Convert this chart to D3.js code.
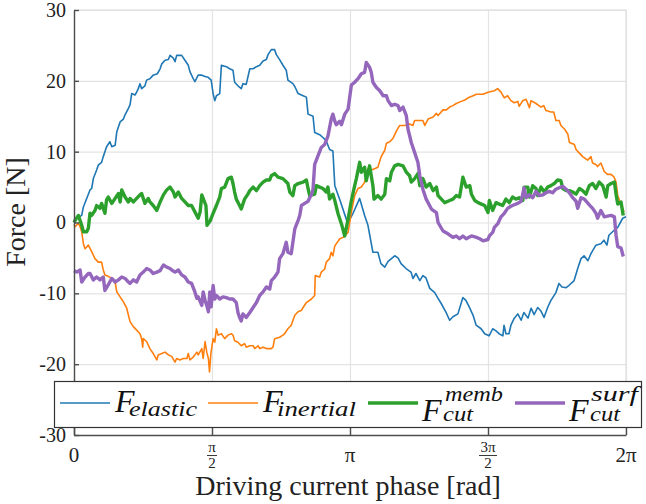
<!DOCTYPE html>
<html>
<head>
<meta charset="utf-8">
<script src="https://cdn.jsdelivr.net/npm/d3@7"></script>
<style>
  body { margin: 0; background: #fff; }
  .grid line { stroke: #e3e3e3; stroke-width: 1.2; }
  .grid path { display: none; }
  .axis path, .axis line { stroke: #4d4d4d; stroke-width: 1.4; }
  .series { fill: none; stroke-linejoin: round; }
</style>
</head>
<body>
<div id="chart"></div>
<script>
// phase in multiples of pi, force in N
const elastic = [[0,0],[0.010,0.6],[0.028,1.0],[0.034,2.2],[0.046,3.4],[0.058,4.6],[0.064,4.8],[0.070,6.2],[0.082,7.4],[0.088,8.1],[0.100,8.5],[0.106,9.3],[0.112,10.0],[0.118,10.7],[0.130,11.4],[0.137,10.7],[0.149,10.9],[0.155,12.8],[0.167,14.2],[0.179,14.6],[0.185,15.2],[0.197,16.1],[0.203,16.6],[0.209,18.2],[0.221,18.0],[0.227,18.4],[0.233,18.9],[0.239,19.6],[0.245,18.9],[0.257,19.3],[0.263,20.1],[0.275,20.3],[0.287,20.8],[0.302,21.0],[0.312,21.7],[0.318,22.4],[0.330,22.9],[0.342,23.0],[0.348,23.6],[0.360,23.2],[0.366,22.7],[0.372,23.6],[0.390,23.6],[0.402,22.9],[0.414,22.2],[0.420,21.3],[0.432,20.3],[0.438,19.9],[0.450,20.8],[0.463,20.8],[0.475,20.6],[0.486,20.5],[0.497,20.1],[0.504,18.2],[0.510,17.2],[0.516,17.9],[0.528,18.2],[0.534,22.2],[0.552,22.0],[0.564,21.7],[0.576,21.5],[0.582,19.8],[0.594,19.3],[0.606,18.9],[0.612,19.6],[0.624,19.5],[0.637,21.7],[0.649,21.7],[0.661,22.0],[0.673,22.2],[0.685,22.8],[0.697,23.0],[0.703,23.7],[0.715,24.4],[0.727,24.4],[0.733,23.7],[0.745,23.0],[0.757,22.2],[0.769,21.5],[0.775,20.1],[0.793,19.6],[0.800,19.2],[0.812,18.2],[0.830,17.9],[0.842,17.7],[0.848,15.3],[0.866,15.0],[0.872,12.7],[0.890,12.4],[0.902,12.0],[0.914,11.5],[0.926,10.3],[0.938,10.1],[0.945,5.2],[0.964,3.1],[0.988,0.3],[0.993,0.0],[1.011,1.3],[1.035,3.4],[1.053,1.0],[1.065,-0.4],[1.083,-4.2],[1.101,-4.2],[1.112,-5.8],[1.126,-6.3],[1.138,-5.5],[1.162,-4.7],[1.174,-5.0],[1.185,-5.8],[1.203,-6.5],[1.221,-7.0],[1.228,-7.9],[1.239,-7.2],[1.253,-8.2],[1.264,-7.5],[1.275,-7.8],[1.289,-9.3],[1.307,-9.9],[1.319,-10.7],[1.330,-11.4],[1.348,-12.7],[1.361,-13.8],[1.373,-13.3],[1.391,-12.9],[1.409,-10.6],[1.420,-11.0],[1.434,-12.1],[1.446,-13.1],[1.457,-14.5],[1.475,-15.0],[1.488,-15.7],[1.504,-16.0],[1.517,-15.0],[1.529,-15.3],[1.540,-15.7],[1.554,-16.0],[1.558,-14.5],[1.565,-15.7],[1.576,-15.7],[1.583,-14.5],[1.594,-13.6],[1.608,-12.9],[1.620,-13.8],[1.630,-12.7],[1.645,-13.5],[1.656,-12.1],[1.667,-13.0],[1.680,-12.0],[1.692,-12.5],[1.703,-13.4],[1.716,-12.0],[1.728,-11.0],[1.746,-9.9],[1.757,-8.6],[1.768,-9.1],[1.783,-9.2],[1.793,-8.9],[1.812,-8.2],[1.825,-6.5],[1.837,-5.1],[1.848,-4.7],[1.862,-5.4],[1.873,-4.4],[1.891,-3.2],[1.909,-3.0],[1.920,-2.5],[1.931,-3.2],[1.938,-1.8],[1.957,-1.1],[1.970,-0.7],[1.988,0.6],[2.0,0.8]];

const inertial = [[0,-0.3],[0.004,-0.6],[0.016,-0.1],[0.022,-0.6],[0.028,-1.3],[0.034,-3.0],[0.040,-3.7],[0.052,-3.2],[0.064,-4.1],[0.076,-5.1],[0.088,-5.6],[0.100,-5.6],[0.106,-6.7],[0.112,-7.4],[0.124,-7.6],[0.137,-7.9],[0.149,-8.4],[0.155,-9.8],[0.167,-10.5],[0.179,-11.2],[0.191,-12.1],[0.203,-14.0],[0.215,-14.7],[0.227,-15.2],[0.239,-15.7],[0.245,-16.4],[0.249,-17.6],[0.251,-16.4],[0.263,-16.8],[0.275,-17.8],[0.287,-18.5],[0.300,-19.4],[0.305,-18.7],[0.318,-18.5],[0.330,-18.3],[0.342,-18.7],[0.354,-18.9],[0.366,-19.7],[0.372,-19.2],[0.384,-19.4],[0.396,-19.2],[0.409,-19.2],[0.414,-18.5],[0.420,-19.4],[0.432,-19.0],[0.445,-18.3],[0.450,-18.7],[0.463,-17.8],[0.468,-19.2],[0.475,-16.8],[0.481,-18.3],[0.487,-19.2],[0.491,-21.1],[0.496,-18.5],[0.504,-16.4],[0.510,-16.9],[0.516,-15.0],[0.522,-15.9],[0.534,-15.7],[0.546,-16.4],[0.558,-15.9],[0.570,-15.7],[0.576,-15.9],[0.582,-16.7],[0.594,-16.9],[0.606,-17.4],[0.618,-17.1],[0.624,-17.6],[0.637,-17.4],[0.649,-17.4],[0.655,-17.8],[0.667,-17.4],[0.673,-17.8],[0.685,-17.6],[0.697,-17.8],[0.715,-17.8],[0.721,-17.6],[0.727,-16.4],[0.745,-16.2],[0.757,-15.9],[0.763,-15.7],[0.775,-15.0],[0.787,-14.5],[0.800,-13.1],[0.812,-12.6],[0.824,-12.4],[0.830,-12.0],[0.842,-11.3],[0.860,-10.8],[0.872,-10.3],[0.874,-7.5],[0.890,-7.7],[0.896,-7.0],[0.908,-6.6],[0.914,-5.6],[0.926,-5.1],[0.932,-4.2],[0.938,-4.7],[0.945,-3.3],[0.963,-2.3],[0.975,-2.1],[0.993,-1.4],[1.005,1.5],[1.017,3.8],[1.029,4.8],[1.041,5.0],[1.053,5.7],[1.065,7.6],[1.077,7.4],[1.089,7.6],[1.101,7.8],[1.113,9.3],[1.126,10.2],[1.132,11.2],[1.144,11.4],[1.156,11.9],[1.168,12.9],[1.180,13.7],[1.198,13.7],[1.216,13.9],[1.228,13.7],[1.234,14.4],[1.253,14.4],[1.264,14.4],[1.271,13.7],[1.283,14.6],[1.301,14.9],[1.313,15.4],[1.319,15.1],[1.337,15.9],[1.349,15.9],[1.361,16.3],[1.373,16.5],[1.385,16.8],[1.403,17.1],[1.416,17.3],[1.428,17.6],[1.446,17.9],[1.458,18.1],[1.482,18.1],[1.500,18.4],[1.523,18.6],[1.535,18.9],[1.547,18.4],[1.559,17.6],[1.571,17.9],[1.583,17.2],[1.595,16.9],[1.608,17.1],[1.613,16.4],[1.626,17.2],[1.638,17.4],[1.650,16.2],[1.656,17.2],[1.674,16.8],[1.692,16.3],[1.702,16.5],[1.710,15.8],[1.728,15.6],[1.738,15.6],[1.746,14.4],[1.758,14.4],[1.764,13.7],[1.777,13.2],[1.789,12.5],[1.795,11.3],[1.813,11.0],[1.819,10.3],[1.831,9.8],[1.843,9.3],[1.861,8.8],[1.873,9.3],[1.879,8.4],[1.891,8.2],[1.897,7.9],[1.909,8.4],[1.921,7.2],[1.933,6.8],[1.946,6.8],[1.957,6.4],[1.964,5.7],[1.970,3.8],[1.982,2.5],[1.993,1.5]];

const cutMemb = [[0,0],[0.004,0.3],[0.016,1.0],[0.028,-0.4],[0.034,-1.3],[0.046,-1.3],[0.052,-0.8],[0.058,1.3],[0.064,1.0],[0.076,1.7],[0.082,2.4],[0.094,2.0],[0.100,2.7],[0.112,1.3],[0.118,3.2],[0.124,3.6],[0.137,2.7],[0.149,3.4],[0.161,4.1],[0.167,2.9],[0.173,4.6],[0.185,3.6],[0.197,2.9],[0.203,3.4],[0.215,2.9],[0.227,3.4],[0.239,3.9],[0.245,4.1],[0.257,2.7],[0.269,3.4],[0.275,2.9],[0.287,2.4],[0.300,1.7],[0.312,2.9],[0.324,3.9],[0.336,4.6],[0.348,5.0],[0.360,4.3],[0.366,3.6],[0.378,4.3],[0.390,3.4],[0.402,2.9],[0.414,2.4],[0.426,2.4],[0.438,1.5],[0.450,0.6],[0.457,1.5],[0.463,3.9],[0.468,3.4],[0.478,2.4],[0.482,-0.4],[0.493,0.2],[0.504,1.3],[0.516,2.4],[0.528,3.6],[0.534,4.8],[0.546,5.0],[0.558,6.2],[0.570,6.4],[0.576,5.5],[0.582,4.3],[0.588,3.3],[0.600,2.4],[0.606,1.9],[0.618,3.3],[0.630,4.0],[0.637,4.5],[0.649,5.0],[0.661,4.5],[0.673,5.2],[0.685,5.7],[0.697,6.0],[0.709,6.0],[0.715,6.6],[0.727,6.9],[0.739,6.4],[0.757,6.2],[0.775,5.5],[0.782,4.3],[0.793,3.8],[0.800,5.2],[0.812,5.5],[0.830,5.7],[0.842,6.0],[0.848,4.8],[0.854,3.8],[0.872,4.0],[0.878,5.2],[0.890,5.0],[0.902,4.8],[0.914,4.3],[0.920,5.0],[0.926,3.3],[0.938,4.0],[0.945,3.1],[0.957,1.2],[0.969,-0.2],[0.981,-1.9],[0.993,0.5],[1.005,3.1],[1.017,5.2],[1.023,6.2],[1.035,8.5],[1.041,7.1],[1.053,7.8],[1.059,5.9],[1.071,8.0],[1.083,5.2],[1.087,3.3],[1.101,3.8],[1.113,3.3],[1.126,4.0],[1.132,6.2],[1.144,5.9],[1.150,7.1],[1.162,8.0],[1.174,8.2],[1.192,8.0],[1.204,7.1],[1.216,6.6],[1.222,5.7],[1.234,6.2],[1.246,6.9],[1.253,5.2],[1.264,6.2],[1.276,5.0],[1.289,5.5],[1.301,4.5],[1.313,5.0],[1.319,3.8],[1.331,3.3],[1.343,2.8],[1.361,3.1],[1.373,3.3],[1.385,3.8],[1.397,3.6],[1.409,6.4],[1.421,5.0],[1.434,5.2],[1.440,4.0],[1.452,3.1],[1.464,2.8],[1.476,2.6],[1.488,2.4],[1.500,1.4],[1.505,3.1],[1.517,1.7],[1.529,2.8],[1.541,2.6],[1.553,2.4],[1.565,3.3],[1.577,2.8],[1.589,3.6],[1.601,3.3],[1.613,3.5],[1.626,3.1],[1.631,5.0],[1.644,5.0],[1.650,3.6],[1.662,5.2],[1.674,4.8],[1.680,3.8],[1.692,5.0],[1.704,4.3],[1.716,5.0],[1.728,5.2],[1.740,5.5],[1.752,6.0],[1.764,5.9],[1.771,4.8],[1.783,4.5],[1.795,4.5],[1.807,4.3],[1.819,4.0],[1.831,4.8],[1.843,4.5],[1.855,4.0],[1.867,5.2],[1.879,5.5],[1.891,4.8],[1.903,5.7],[1.916,5.2],[1.928,3.6],[1.934,5.2],[1.946,5.5],[1.958,5.7],[1.964,4.0],[1.970,2.6],[1.982,2.9],[1.990,1.0]];

const cutSurf = [[0,-6.8],[0.010,-7.0],[0.022,-6.7],[0.028,-8.4],[0.040,-7.7],[0.052,-7.2],[0.058,-7.2],[0.070,-8.1],[0.082,-7.7],[0.094,-8.1],[0.106,-7.7],[0.112,-9.6],[0.124,-8.8],[0.137,-7.9],[0.149,-8.4],[0.161,-8.1],[0.173,-7.7],[0.185,-7.9],[0.197,-8.4],[0.203,-8.6],[0.215,-8.1],[0.227,-8.4],[0.239,-7.4],[0.251,-7.0],[0.263,-6.5],[0.275,-6.7],[0.287,-7.2],[0.300,-7.0],[0.312,-6.8],[0.324,-6.0],[0.336,-6.3],[0.348,-6.5],[0.354,-6.7],[0.366,-7.0],[0.378,-6.7],[0.390,-7.4],[0.402,-7.7],[0.414,-8.4],[0.426,-8.6],[0.438,-9.8],[0.445,-10.7],[0.450,-10.5],[0.463,-11.7],[0.468,-9.8],[0.475,-11.0],[0.481,-11.7],[0.487,-12.6],[0.492,-9.8],[0.497,-11.9],[0.504,-8.9],[0.510,-10.8],[0.516,-10.3],[0.528,-10.8],[0.540,-10.5],[0.552,-10.6],[0.564,-10.8],[0.576,-10.8],[0.588,-11.3],[0.594,-12.7],[0.600,-13.4],[0.606,-13.9],[0.612,-12.9],[0.624,-13.4],[0.637,-12.7],[0.649,-12.0],[0.661,-11.3],[0.673,-10.3],[0.685,-9.8],[0.697,-9.1],[0.709,-9.4],[0.715,-8.2],[0.727,-7.7],[0.739,-7.0],[0.745,-5.1],[0.757,-4.4],[0.769,-2.8],[0.775,-4.2],[0.787,-4.4],[0.793,-2.8],[0.800,-0.9],[0.812,0.3],[0.818,1.0],[0.824,2.4],[0.836,2.7],[0.848,3.0],[0.854,3.5],[0.860,3.9],[0.866,4.7],[0.872,8.2],[0.884,9.4],[0.896,10.6],[0.908,11.0],[0.920,12.2],[0.932,14.6],[0.938,15.3],[0.945,14.3],[0.950,13.8],[0.963,14.3],[0.969,13.8],[0.981,15.3],[0.993,16.0],[1.005,19.4],[1.017,19.8],[1.029,20.3],[1.041,21.0],[1.053,21.2],[1.059,22.6],[1.071,21.9],[1.077,21.2],[1.083,19.8],[1.095,19.1],[1.108,18.6],[1.120,17.9],[1.132,17.9],[1.138,17.2],[1.150,16.5],[1.162,16.7],[1.174,16.5],[1.180,15.8],[1.192,16.3],[1.204,15.1],[1.210,13.2],[1.222,11.3],[1.234,9.9],[1.246,8.5],[1.253,6.6],[1.264,4.7],[1.276,3.3],[1.295,1.9],[1.313,1.4],[1.319,0.0],[1.337,-1.2],[1.355,-1.6],[1.373,-2.1],[1.385,-1.9],[1.397,-2.3],[1.409,-1.9],[1.421,-2.3],[1.440,-1.9],[1.458,-2.1],[1.470,-2.3],[1.482,-2.6],[1.500,-2.4],[1.505,-1.9],[1.517,-1.4],[1.523,-0.7],[1.535,-0.2],[1.547,0.8],[1.559,1.3],[1.571,2.0],[1.583,2.3],[1.595,2.5],[1.608,2.7],[1.620,3.0],[1.631,4.9],[1.638,3.5],[1.650,3.9],[1.662,3.5],[1.674,4.4],[1.686,3.8],[1.699,3.9],[1.710,4.2],[1.722,4.4],[1.734,4.2],[1.746,4.7],[1.758,4.9],[1.771,5.1],[1.783,4.7],[1.795,4.2],[1.807,3.5],[1.819,3.0],[1.825,2.0],[1.837,3.5],[1.849,3.3],[1.867,2.5],[1.879,2.0],[1.891,1.3],[1.897,0.6],[1.909,1.7],[1.921,0.8],[1.933,0.9],[1.946,1.0],[1.958,0.8],[1.964,-1.8],[1.970,-3.4],[1.982,-3.6],[1.990,-4.8]];

const yTicks = [-30, -20, -10, 0, 10, 20, 30];
const xTicks = [0, 0.5, 1, 1.5, 2]; // multiples of pi

const width = 646, height = 504;
const margin = {top: 10, right: 20, bottom: 69, left: 74};
const plotWidth = width - margin.left - margin.right;
const plotHeight = height - margin.top - margin.bottom;
const serif = "'Liberation Serif', 'Times New Roman', Tinos, 'Nimbus Roman', 'DejaVu Serif', 'Noto Serif', serif";

const svg = d3.select("#chart").append("svg")
  .attr("width", width).attr("height", height)
  .attr("font-family", serif);
const g = svg.append("g")
  .attr("transform", "translate(" + margin.left + "," + margin.top + ")");

const x = d3.scaleLinear().domain([0, 2 * Math.PI]).range([0, plotWidth]);
const y = d3.scaleLinear().domain([-30, 30]).range([plotHeight, 0]);

// grid
g.append("g").attr("class", "grid")
  .call(d3.axisLeft(y).tickValues(yTicks).tickSize(-plotWidth).tickFormat(""));
g.append("g").attr("class", "grid")
  .attr("transform", "translate(0," + plotHeight + ")")
  .call(d3.axisBottom(x).tickValues(xTicks.map(t => t * Math.PI)).tickSize(plotHeight).tickFormat(""))
  .selectAll("line").attr("y2", -plotHeight);
// light box top/right
g.append("path")
  .attr("d", "M0,0H" + plotWidth + "V" + plotHeight)
  .attr("fill", "none").attr("stroke", "#e3e3e3").attr("stroke-width", 1.4);

// series
const line = d3.line().x(d => x(d[0] * Math.PI)).y(d => y(d[1]));
const series = [
  {name: "elastic", data: elastic, color: "#1f77b4", w: 1.6},
  {name: "inertial", data: inertial, color: "#ff7f0e", w: 1.6},
  {name: "memb", data: cutMemb, color: "#2ca02c", w: 3.4},
  {name: "surf", data: cutSurf, color: "#9467bd", w: 3.4}
];
g.selectAll(".series")
  .data(series)
  .enter()
  .append("path")
  .attr("class", "series")
  .attr("stroke", d => d.color)
  .attr("stroke-width", d => d.w)
  .attr("d", d => line(d.data));

// axes
const yAxis = g.append("g").attr("class", "axis")
  .call(d3.axisLeft(y).tickValues(yTicks).tickSizeInner(-5).tickSizeOuter(0).tickPadding(8).tickFormat(d => String(d)));
yAxis.attr("font-family", serif).attr("font-size", 20);
yAxis.selectAll("text").attr("fill", "#222");

const xAxis = g.append("g").attr("class", "axis")
  .attr("transform", "translate(0," + plotHeight + ")")
  .call(d3.axisBottom(x).tickValues(xTicks.map(t => t * Math.PI)).tickSizeInner(-7).tickSizeOuter(0).tickFormat(""));

// x tick labels (pi notation)
const xLab = g.append("g").attr("transform", "translate(0," + plotHeight + ")").attr("fill", "#222");
const plainLabels = [[0, "0"], [1, "π"], [2, "2π"]];
xLab.selectAll(".xl").data(plainLabels).enter().append("text")
  .attr("x", d => x(d[0] * Math.PI)).attr("y", 27)
  .attr("text-anchor", "middle").attr("font-size", 21)
  .text(d => d[1]);
const fracLabels = [[0.5, "π"], [1.5, "3π"]];
const fr = xLab.selectAll(".fr").data(fracLabels).enter().append("g")
  .attr("transform", d => "translate(" + x(d[0] * Math.PI) + ",0)");
fr.append("text").attr("y", 17).attr("text-anchor", "middle").attr("font-size", 15).text(d => d[1]);
fr.append("line").attr("x1", d => d[1].length > 1 ? -9 : -5).attr("x2", d => d[1].length > 1 ? 9 : 5)
  .attr("y1", 20.5).attr("y2", 20.5).attr("stroke", "#222").attr("stroke-width", 0.9);
fr.append("text").attr("y", 33).attr("text-anchor", "middle").attr("font-size", 15).text("2");

// axis titles
svg.append("text")
  .attr("x", 348).attr("y", 495).attr("fill", "#222")
  .attr("text-anchor", "middle").attr("font-size", 28)
  .text("Driving current phase [rad]");
svg.append("text")
  .attr("transform", "translate(25,212) rotate(-90)").attr("fill", "#222")
  .attr("text-anchor", "middle").attr("font-size", 28)
  .text("Force [N]");

// legend
const legend = svg.append("g").attr("fill", "#111");
legend.append("rect")
  .attr("x", 54.5).attr("y", 381.5).attr("width", 587).attr("height", 46)
  .attr("fill", "#fff").attr("stroke", "#333").attr("stroke-width", 1.2);
const legendItems = [
  {lx: 60, fx: 115, fy: 412, sub: "elastic", subX: 129, subW: 68, sup: null},
  {lx: 208, fx: 263, fy: 412, sub: "inertial", subX: 277, subW: 79, sup: null},
  {lx: 368, fx: 422, fy: 421, sub: "cut", subX: 443, subW: 30, sup: "memb", supX: 445, supW: 58},
  {lx: 515, fx: 569, fy: 421, sub: "cut", subX: 590, subW: 30, sup: "surf", supX: 591, supW: 47}
];
legendItems.forEach((it, i) => {
  legend.append("line")
    .attr("x1", it.lx).attr("x2", it.lx + 50).attr("y1", 403).attr("y2", 403)
    .attr("stroke", series[i].color).attr("stroke-width", series[i].w);
  const t = legend.append("text").attr("x", it.fx).attr("y", it.fy)
    .attr("font-style", "italic");
  t.append("tspan").attr("font-size", 32).text("F");
  if (it.sup) {
    t.append("tspan").attr("x", it.supX).attr("y", 401)
      .attr("textLength", it.supW).attr("lengthAdjust", "spacingAndGlyphs")
      .attr("font-size", 22).text(it.sup);
  }
  t.append("tspan").attr("x", it.subX).attr("y", it.sup ? 421 : 416)
    .attr("textLength", it.subW).attr("lengthAdjust", "spacingAndGlyphs")
    .attr("font-size", 22).text(it.sub);
});
</script>
</body>
</html>
